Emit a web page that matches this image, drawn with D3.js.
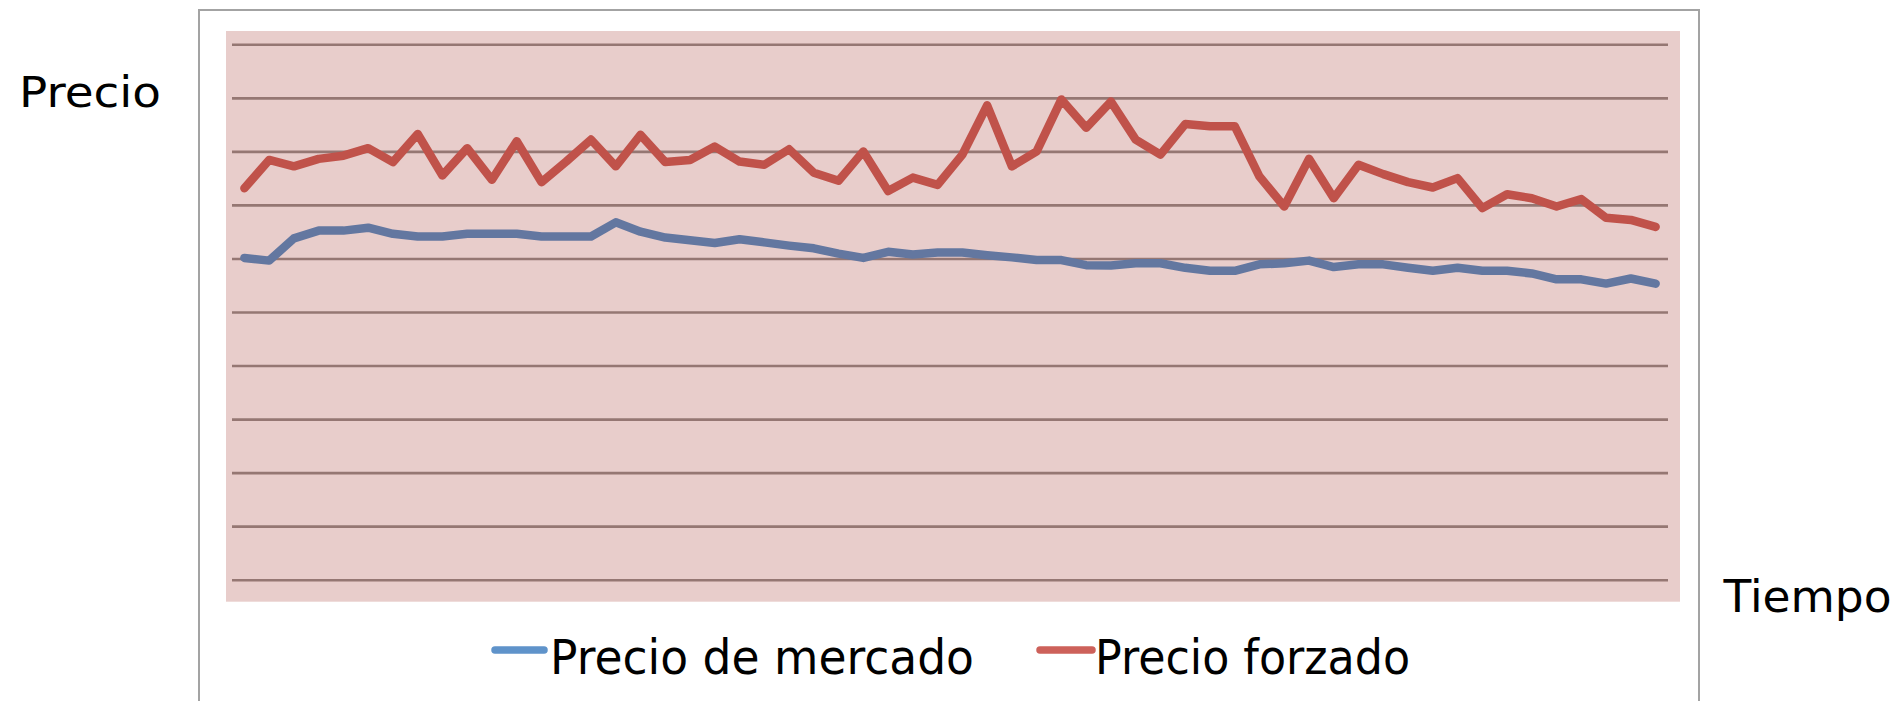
<!DOCTYPE html>
<html>
<head>
<meta charset="utf-8">
<script src="https://cdn.jsdelivr.net/npm/d3@7"></script>
<style>
  html, body { margin: 0; padding: 0; background: #ffffff; overflow: hidden; }
  svg { display: block; }
  text { font-family: "DejaVu Sans", "Liberation Sans", sans-serif; fill: #000; }
</style>
</head>
<body>
<svg id="chart" width="1901" height="701"></svg>
<script>
// ---- data ----
const categories = d3.range(1, 59).map(String);           // 58 time periods (unlabelled)
const seriesNames = ["Precio de mercado", "Precio forzado"];
const precioMercado = [
  60.1, 59.6, 63.75, 65.2, 65.2, 65.75, 64.6, 64.1, 64.1, 64.6,
  64.6, 64.6, 64.1, 64.1, 64.1, 66.75, 65.0, 63.9, 63.4, 62.9,
  63.6, 63.0, 62.4, 61.9, 60.9, 60.1, 61.25, 60.75, 61.1, 61.1,
  60.6, 60.2, 59.7, 59.7, 58.75, 58.7, 59.1, 59.1, 58.25, 57.7,
  57.7, 58.9, 59.1, 59.6, 58.4, 58.9, 58.9, 58.25, 57.7, 58.25,
  57.7, 57.7, 57.2, 56.1, 56.1, 55.3, 56.25, 55.3
];
const precioForzado = [
  73.1, 78.4, 77.2, 78.6, 79.2, 80.6, 78.0, 83.25, 75.5, 80.6,
  74.7, 81.9, 74.25, 78.1, 82.2, 77.2, 83.1, 78.0, 78.4, 80.9,
  78.1, 77.5, 80.4, 76.0, 74.5, 80.0, 72.6, 75.1, 73.75, 79.4,
  88.6, 77.2, 80.0, 89.7, 84.4, 89.3, 82.2, 79.4, 85.1, 84.7,
  84.7, 75.3, 69.7, 78.6, 71.25, 77.5, 75.75, 74.25, 73.25, 75.0,
  69.4, 72.0, 71.25, 69.7, 71.1, 67.6, 67.2, 65.9
];
const yTicks = [0, 10, 20, 30, 40, 50, 60, 70, 80, 90, 100];
const yAxisTitle = "Precio";
const xAxisTitle = "Tiempo";

// ---- layout ----
const svg = d3.select("#chart");
const box = { x: 199, y: 10, w: 1500, h: 720 };
const plotBg = { x: 226, y: 31, w: 1454, h: 570.7 };
const inner = { left: 232, right: 1668, top: 44.3, bottom: 579.7 };

const x = d3.scalePoint().domain(categories).range([inner.left, inner.right]).padding(0.5);
const y = d3.scaleLinear().domain([0, 100]).range([inner.bottom, inner.top]);

// chart border
svg.append("rect")
  .attr("x", box.x).attr("y", box.y).attr("width", box.w).attr("height", box.h)
  .attr("fill", "#ffffff").attr("stroke", "#a3a3a3").attr("stroke-width", 2);

// plot area background
svg.append("rect")
  .attr("x", plotBg.x).attr("y", plotBg.y).attr("width", plotBg.w).attr("height", plotBg.h)
  .attr("fill", "#e8cdcb");

// gridlines via axis
const grid = svg.append("g")
  .attr("transform", `translate(${inner.left},0)`)
  .call(d3.axisLeft(y).tickValues(yTicks).tickSize(-(inner.right - inner.left)).tickFormat(""));
grid.select(".domain").remove();
grid.selectAll(".tick line").attr("stroke", "#957773").attr("stroke-width", 2.6);

// lines
const line = d3.line().x((d, i) => x(categories[i])).y(d => y(d));
svg.append("path").datum(precioMercado)
  .attr("d", line).attr("fill", "none")
  .attr("stroke", "#6377a0").attr("stroke-width", 8.5)
  .attr("stroke-linejoin", "round").attr("stroke-linecap", "round");
svg.append("path").datum(precioForzado)
  .attr("d", line).attr("fill", "none")
  .attr("stroke", "#c0524a").attr("stroke-width", 8.5)
  .attr("stroke-linejoin", "round").attr("stroke-linecap", "round");

// axis titles
svg.append("text").attr("x", 19).attr("y", 107)
  .attr("font-size", 42).attr("textLength", 142).attr("lengthAdjust", "spacingAndGlyphs")
  .text(yAxisTitle);
svg.append("text").attr("x", 1723.5).attr("y", 611.7)
  .attr("font-size", 45).attr("textLength", 168).attr("lengthAdjust", "spacingAndGlyphs")
  .text(xAxisTitle);

// legend
const legendItems = [
  { name: seriesNames[0], color: "#5f93ca", x1: 495, x2: 544, tx: 550, tw: 424 },
  { name: seriesNames[1], color: "#cd615a", x1: 1040, x2: 1092, tx: 1095, tw: 315 }
];
const lg = svg.append("g");
legendItems.forEach(it => {
  lg.append("line").attr("x1", it.x1).attr("x2", it.x2).attr("y1", 650).attr("y2", 650)
    .attr("stroke", it.color).attr("stroke-width", 7.5).attr("stroke-linecap", "round");
  lg.append("text").attr("x", it.tx).attr("y", 674)
    .attr("font-size", 48).attr("textLength", it.tw).attr("lengthAdjust", "spacingAndGlyphs")
    .text(it.name);
});
</script>
</body>
</html>
